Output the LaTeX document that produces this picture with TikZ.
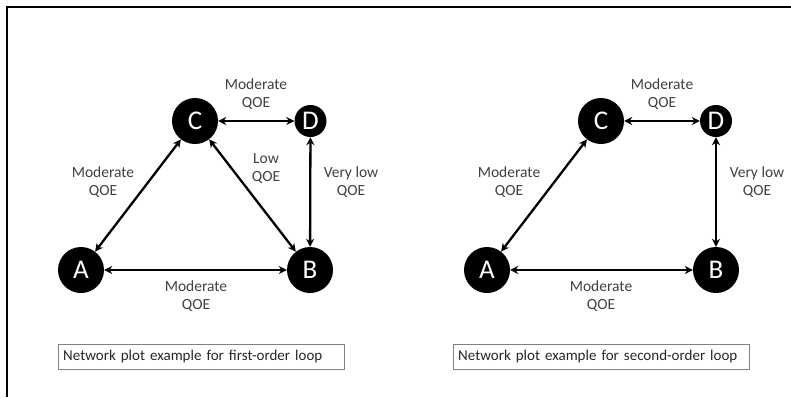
\documentclass[tikz,border=0pt]{standalone}
\usepackage{fontspec}
\setmainfont{Carlito}
\usetikzlibrary{arrows.meta}

\definecolor{lbltext}{HTML}{404040}

\begin{document}
\begin{tikzpicture}[x=1pt, y=-1pt,
    big/.style = {circle, fill = black, inner sep = 0pt, minimum size = 46pt,
                  text = white, font = \fontsize{27}{27}\selectfont},
    small/.style = {big, minimum size = 32pt},
    lbl/.style = {align = center, text = lbltext, font = \fontsize{15.5}{18}\selectfont},
    caption/.style = {draw = gray, anchor = west, inner xsep = 5pt, inner ysep = 0pt,
                      minimum height = 25pt, align = left, text = black!85,
                      font = \fontsize{15}{18}\selectfont},
    link/.style = {{Stealth[length=8pt,width=8pt]}-{Stealth[length=8pt,width=8pt]}, line width = 2.3pt}]

    \useasboundingbox (0,0) rectangle (791,397);

    % frame
    \draw[line width = 1.8pt] (7,397) -- (7,7) -- (791,7);

    % first-order loop
    \node[big] (c1) at (195,121) {C};
    \node[small] (d1) at (310.5,121) {D};
    \node[big] (a1) at (81,270) {A};
    \node[big] (b1) at (310,270) {B};

    \node[lbl] (l1) at (256,94) {Moderate\\QOE};
    \node[lbl] (l2) at (103,182) {Moderate\\QOE};
    \node[lbl] (l3) at (266,169) {Low\\QOE};
    \node[lbl] (l4) at (351,182) {Very low\\QOE};
    \node[lbl] (l5) at (196,296) {Moderate\\QOE};

    \node[caption, text width = 276pt] (cap1) at (58,356.5) {Network plot example for first-order loop};

    \draw[link] (c1) to (d1);
    \draw[link] (a1) to (c1);
    \draw[link] (c1) to (b1);
    \draw[link] (d1) to (b1);
    \draw[link] (a1) to (b1);

    % second-order loop
    \node[big] (c2) at (601,121) {C};
    \node[small] (d2) at (716,121) {D};
    \node[big] (a2) at (487,270) {A};
    \node[big] (b2) at (716,270) {B};

    \node[lbl] (m1) at (662,94) {Moderate\\QOE};
    \node[lbl] (m2) at (509,182) {Moderate\\QOE};
    \node[lbl] (m4) at (757,182) {Very low\\QOE};
    \node[lbl] (m5) at (601,296) {Moderate\\QOE};

    \node[caption, text width = 286pt] (cap2) at (453,356.5) {Network plot example for second-order loop};

    \draw[link] (c2) to (d2);
    \draw[link] (a2) to (c2);
    \draw[link] (d2) to (b2);
    \draw[link] (a2) to (b2);
\end{tikzpicture}
\end{document}
